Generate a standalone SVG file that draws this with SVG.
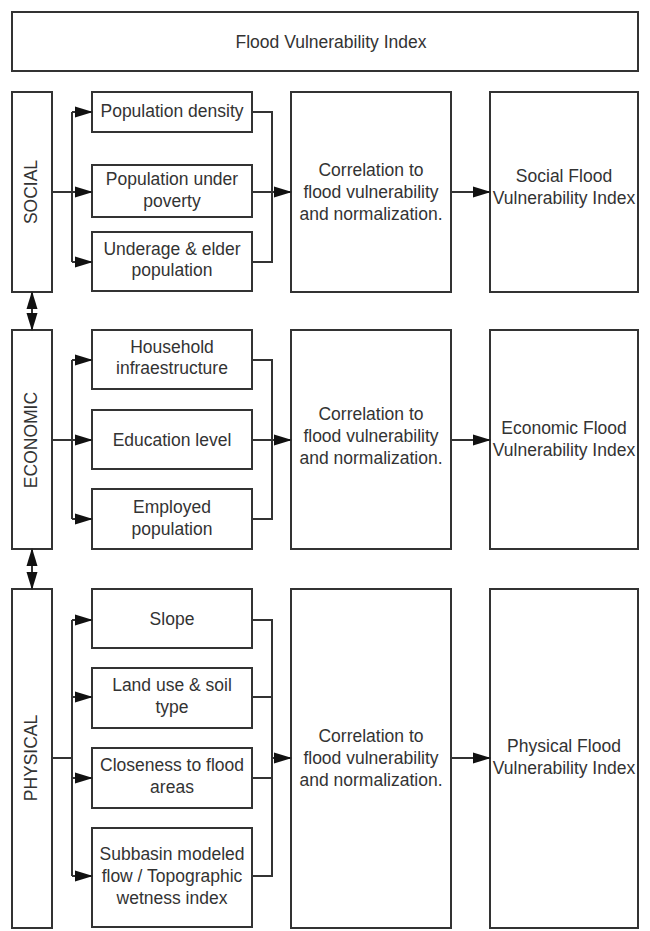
<svg xmlns="http://www.w3.org/2000/svg" width="650" height="931" viewBox="0 0 650 931">
<style>
.b{fill:#fff;stroke:#333;stroke-width:2}
.t{font-family:"Liberation Sans",Arial,sans-serif;font-size:17.5px;fill:#333;text-anchor:middle}
.c{fill:none;stroke:#333;stroke-width:2}
.a{marker-end:url(#ah)}
.d{marker-start:url(#ds);marker-end:url(#de)}
</style>
<defs>
<marker id="ah" markerUnits="userSpaceOnUse" markerWidth="18" markerHeight="12" refX="17" refY="6" orient="auto"><path d="M0,0.5 L18,6 L0,11.5 z" fill="#111"/></marker>
<marker id="de" markerUnits="userSpaceOnUse" markerWidth="18" markerHeight="12" refX="17" refY="6" orient="auto"><path d="M0,0.5 L18,6 L0,11.5 z" fill="#111"/></marker>
<marker id="ds" markerUnits="userSpaceOnUse" markerWidth="18" markerHeight="12" refX="1" refY="6" orient="auto"><path d="M18,0.5 L0,6 L18,11.5 z" fill="#111"/></marker>
</defs>
<rect width="650" height="931" fill="#fff"/>
<g id="title"><rect class="b" x="12" y="12" width="626" height="59"/><text class="t" x="331" y="48">Flood Vulnerability Index</text></g>

<g id="social"><rect class="b" x="12" y="92" width="40" height="200"/><text class="t" transform="translate(37,192) rotate(-90)">SOCIAL</text></g>
<g id="popdens"><rect class="b" x="92" y="92" width="160" height="40"/><text class="t" x="172" y="117">Population density</text></g>
<g id="poverty"><rect class="b" x="92" y="165" width="160" height="52"/><text class="t" x="172" y="185">Population under</text><text class="t" x="172" y="207">poverty</text></g>
<g id="underage"><rect class="b" x="92" y="232" width="160" height="59"/><text class="t" x="172" y="255">Underage &amp; elder</text><text class="t" x="172" y="276">population</text></g>
<g id="corr1"><rect class="b" x="291" y="92" width="160" height="200"/><text class="t" x="371" y="176">Correlation to</text><text class="t" x="371" y="198">flood vulnerability</text><text class="t" x="371" y="220">and normalization.</text></g>
<g id="sfvi"><rect class="b" x="490" y="92" width="148" height="200"/><text class="t" x="564" y="182">Social Flood</text><text class="t" x="564" y="204">Vulnerability Index</text></g>

<g id="economic"><rect class="b" x="12" y="330" width="40" height="219"/><text class="t" transform="translate(37,440) rotate(-90)">ECONOMIC</text></g>
<g id="household"><rect class="b" x="92" y="330" width="160" height="59"/><text class="t" x="172" y="353">Household</text><text class="t" x="172" y="374">infraestructure</text></g>
<g id="education"><rect class="b" x="92" y="410" width="160" height="59"/><text class="t" x="172" y="446">Education level</text></g>
<g id="employed"><rect class="b" x="92" y="489" width="160" height="60"/><text class="t" x="172" y="513">Employed</text><text class="t" x="172" y="535">population</text></g>
<g id="corr2"><rect class="b" x="291" y="330" width="160" height="219"/><text class="t" x="371" y="420">Correlation to</text><text class="t" x="371" y="442">flood vulnerability</text><text class="t" x="371" y="464">and normalization.</text></g>
<g id="efvi"><rect class="b" x="490" y="330" width="148" height="219"/><text class="t" x="564" y="434">Economic Flood</text><text class="t" x="564" y="456">Vulnerability Index</text></g>

<g id="physical"><rect class="b" x="12" y="589" width="40" height="339"/><text class="t" transform="translate(37,758) rotate(-90)">PHYSICAL</text></g>
<g id="slope"><rect class="b" x="92" y="589" width="160" height="59"/><text class="t" x="172" y="625">Slope</text></g>
<g id="landuse"><rect class="b" x="92" y="668" width="160" height="60"/><text class="t" x="172" y="691">Land use &amp; soil</text><text class="t" x="172" y="713">type</text></g>
<g id="closeness"><rect class="b" x="92" y="748" width="160" height="60"/><text class="t" x="172" y="771">Closeness to flood</text><text class="t" x="172" y="793">areas</text></g>
<g id="subbasin"><rect class="b" x="92" y="828" width="160" height="99"/><text class="t" x="172" y="860">Subbasin modeled</text><text class="t" x="172" y="882">flow / Topographic</text><text class="t" x="172" y="904">wetness index</text></g>
<g id="corr3"><rect class="b" x="291" y="589" width="160" height="339"/><text class="t" x="371" y="742">Correlation to</text><text class="t" x="371" y="764">flood vulnerability</text><text class="t" x="371" y="786">and normalization.</text></g>
<g id="pfvi"><rect class="b" x="490" y="589" width="148" height="339"/><text class="t" x="564" y="752">Physical Flood</text><text class="t" x="564" y="774">Vulnerability Index</text></g>

<g id="connectors">
<path class="c" d="M52,192 H72 M72,112 V262"/>
<path class="c a" d="M72,112 H92"/>
<path class="c a" d="M72,192 H92"/>
<path class="c a" d="M72,262 H92"/>
<path class="c" d="M252,112 H272 V262 H252"/>
<path class="c a" d="M252,192 H291"/>
<path class="c a" d="M451,192 H490"/>
<path class="c d" d="M32,292 V330"/>

<path class="c" d="M52,440 H72 M72,360 V519"/>
<path class="c a" d="M72,360 H92"/>
<path class="c a" d="M72,440 H92"/>
<path class="c a" d="M72,519 H92"/>
<path class="c" d="M252,360 H272 V519 H252"/>
<path class="c a" d="M252,440 H291"/>
<path class="c a" d="M451,440 H490"/>
<path class="c d" d="M32,549 V589"/>

<path class="c" d="M52,758 H72 M72,620 V876"/>
<path class="c a" d="M72,620 H92"/>
<path class="c a" d="M72,697 H92"/>
<path class="c a" d="M72,778 H92"/>
<path class="c a" d="M72,876 H92"/>
<path class="c" d="M252,620 H272 V876 H252 M252,697 H272 M252,778 H272"/>
<path class="c a" d="M272,758 H291"/>
<path class="c a" d="M451,758 H490"/>
</g>
</svg>
